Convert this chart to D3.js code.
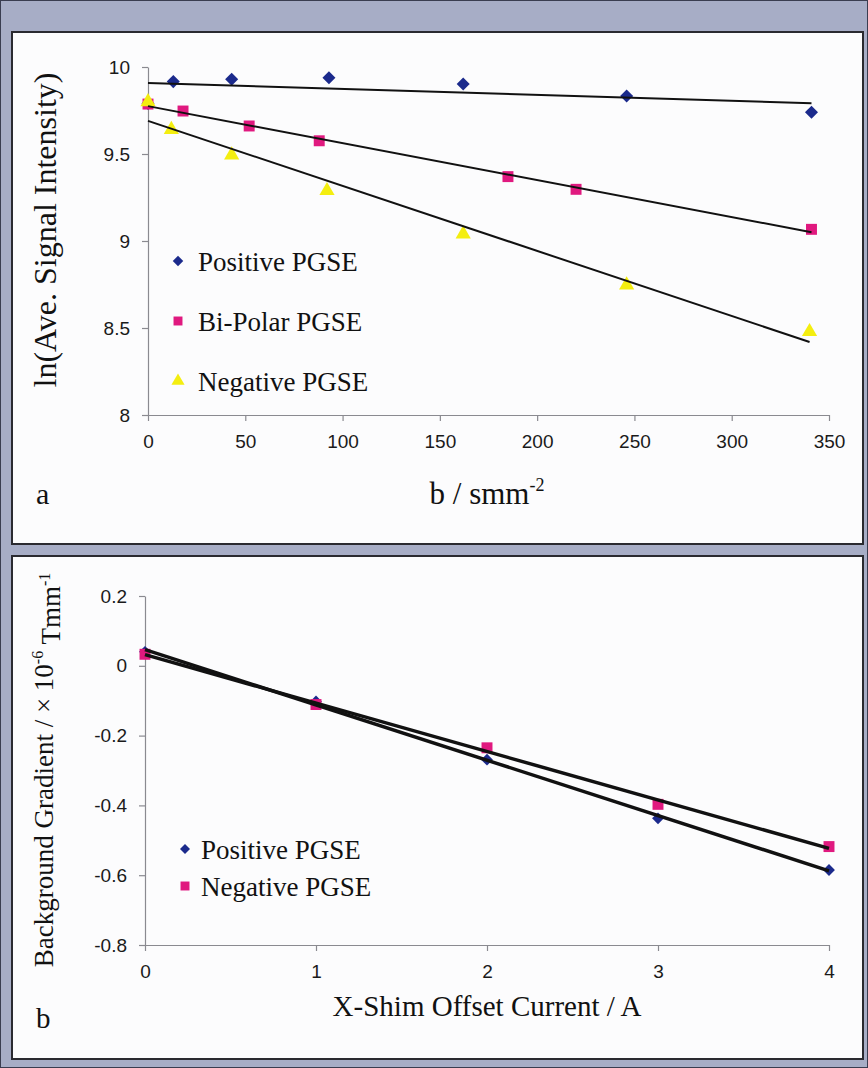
<!DOCTYPE html>
<html>
<head>
<meta charset="utf-8">
<script src="https://cdn.jsdelivr.net/npm/d3@7"></script>
<style>
  html, body { margin: 0; padding: 0; background: #a7adc6; }
  svg { display: block; }
</style>
</head>
<body>
<svg id="fig" width="868" height="1068"></svg>
<script>
// ---- Panel a: ln(average signal intensity) versus b-value ----
const posB   = [0, 13, 43, 93, 162, 246, 341];
const posLn  = [9.79, 9.916, 9.929, 9.938, 9.902, 9.833, 9.74];
const biB    = [0, 18, 52, 88, 185, 220, 341];
const biLn   = [9.787, 9.747, 9.661, 9.576, 9.370, 9.297, 9.067];
const negB   = [0, 12, 43, 92, 162, 246, 340];
const negLn  = [9.80, 9.64, 9.494, 9.289, 9.04, 8.747, 8.479];
const aXTicks = [0, 50, 100, 150, 200, 250, 300, 350];
const aYTicks = [8, 8.5, 9, 9.5, 10];
const aLegend = ["Positive PGSE", "Bi-Polar PGSE", "Negative PGSE"];

// ---- Panel b: background gradient versus X-shim offset current ----
const shimCurrent = [0, 1, 2, 3, 4];
const posGrad     = [0.04, -0.102, -0.269, -0.437, -0.585];
const negGrad     = [0.033, -0.111, -0.235, -0.397, -0.518];
const bXTicks = [0, 1, 2, 3, 4];
const bYTicks = [-0.8, -0.6, -0.4, -0.2, 0, 0.2];
const bLegend = ["Positive PGSE", "Negative PGSE"];

const BLUE = "#1b2a8c", PINK = "#e0197f", YELLOW = "#f4ee10";
const SERIF = "'Liberation Serif', 'Times New Roman', serif";
const SANS = "'Liberation Sans', Arial, sans-serif";

const svg = d3.select("#fig");

// outer frame and the two white panels
svg.append("rect").attr("x", 0.5).attr("y", 0.5).attr("width", 867).attr("height", 1067)
  .attr("fill", "#a7adc6").attr("stroke", "#3a3d50").attr("stroke-width", 1);
[[12, 32, 851, 512], [12, 556, 851, 503]].forEach(([x, y, w, h]) => {
  svg.append("rect").attr("x", x).attr("y", y).attr("width", w).attr("height", h)
    .attr("fill", "#fcfcfd").attr("stroke", "#2a2a30").attr("stroke-width", 2);
});

// least-squares straight line through a series
function fit(xs, ys) {
  const n = xs.length, mx = d3.mean(xs), my = d3.mean(ys);
  let sxy = 0, sxx = 0;
  for (let i = 0; i < n; i++) { sxy += (xs[i] - mx) * (ys[i] - my); sxx += (xs[i] - mx) ** 2; }
  const slope = sxy / sxx;
  return x => my + slope * (x - mx);
}

// marker shapes: a diamond is a square turned by 45 degrees
const MARK = {
  diamond: { sym: d3.symbol().type(d3.symbolSquare), rot: 45 },
  square: { sym: d3.symbol().type(d3.symbolSquare), rot: 0 },
  triangle: { sym: d3.symbol().type(d3.symbolTriangle), rot: 0 }
};

function styleAxis(g, fontSize) {
  g.select(".domain").attr("stroke", "#8a8a90").attr("stroke-width", 1.2);
  g.selectAll(".tick line").attr("stroke", "#8a8a90").attr("stroke-width", 1.2);
  g.selectAll(".tick text").attr("fill", "#1a1a1a")
    .style("font-family", SANS).style("font-size", fontSize + "px");
}

function drawMarkers(g, xs, ys, x, y, kind, size, color) {
  const m = MARK[kind];
  g.selectAll(null).data(xs.map((v, i) => [v, ys[i]])).enter().append("path")
    .attr("d", m.sym.size(size)())
    .attr("transform", d => `translate(${x(d[0])},${y(d[1])}) rotate(${m.rot})`)
    .attr("fill", color);
}

function legendMark(g, cx, cy, kind, size, color) {
  const m = MARK[kind];
  g.append("path").attr("d", m.sym.size(size)())
    .attr("transform", `translate(${cx},${cy}) rotate(${m.rot})`).attr("fill", color);
}

function drawFit(g, xs, ys, x, y, width) {
  const f = fit(xs, ys);
  const x0 = d3.min(xs), x1 = d3.max(xs);
  g.append("line")
    .attr("x1", x(x0)).attr("y1", y(f(x0)))
    .attr("x2", x(x1)).attr("y2", y(f(x1)))
    .attr("stroke", "#111").attr("stroke-width", width);
}

// ================= Panel a =================
{
  const x = d3.scaleLinear().domain([0, 350]).range([148, 829]);
  const y = d3.scaleLinear().domain([8, 10]).range([415, 67]);
  const g = svg.append("g");

  g.append("g").attr("transform", "translate(0,415)")
    .call(d3.axisBottom(x).tickValues(aXTicks).tickSize(6).tickSizeOuter(0).tickPadding(14).tickFormat(d3.format("d")))
    .call(s => styleAxis(s, 19));
  g.append("g").attr("transform", "translate(148,0)")
    .call(d3.axisLeft(y).tickValues(aYTicks).tickSize(6).tickSizeOuter(0).tickPadding(12).tickFormat(d => String(d)))
    .call(s => styleAxis(s, 19));

  drawMarkers(g, posB, posLn, x, y, "diamond", 85, BLUE);
  drawMarkers(g, biB, biLn, x, y, "square", 120, PINK);
  drawMarkers(g, negB, negLn, x, y, "triangle", 100, YELLOW);

  drawFit(g, posB, posLn, x, y, 2);
  drawFit(g, biB, biLn, x, y, 2);
  drawFit(g, negB, negLn, x, y, 2);

  // legend
  const legSyms = [["diamond", 55, BLUE], ["square", 80, PINK], ["triangle", 75, YELLOW]];
  aLegend.forEach((label, i) => {
    const cy = 261 + i * 60;
    legendMark(g, 178, cy, legSyms[i][0], legSyms[i][1], legSyms[i][2]);
    g.append("text").attr("x", 198).attr("y", cy + 10).text(label)
      .style("font-family", SERIF).style("font-size", "27px").attr("fill", "#111");
  });

  // axis titles and panel letter
  const xt = g.append("text").attr("x", 487).attr("y", 504).attr("text-anchor", "middle")
    .style("font-family", SERIF).style("font-size", "31px").attr("fill", "#111");
  xt.append("tspan").text("b / smm");
  xt.append("tspan").attr("dy", "-0.7em").style("font-size", "18px").text("-2");

  g.append("text").attr("transform", "translate(56,230) rotate(-90)").attr("text-anchor", "middle")
    .style("font-family", SERIF).style("font-size", "32px").attr("fill", "#111")
    .text("ln(Ave. Signal Intensity)");

  g.append("text").attr("x", 36).attr("y", 504)
    .style("font-family", SERIF).style("font-size", "30px").attr("fill", "#111").text("a");
}

// ================= Panel b =================
{
  const x = d3.scaleLinear().domain([0, 4]).range([145, 829]);
  const y = d3.scaleLinear().domain([-0.8, 0.2]).range([945, 596]);
  const g = svg.append("g");

  g.append("g").attr("transform", "translate(0,945)")
    .call(d3.axisBottom(x).tickValues(bXTicks).tickSize(6).tickSizeOuter(0).tickPadding(14).tickFormat(d3.format("d")))
    .call(s => styleAxis(s, 19));
  g.append("g").attr("transform", "translate(145,0)")
    .call(d3.axisLeft(y).tickValues(bYTicks).tickSize(6).tickSizeOuter(0).tickPadding(12)
      .tickFormat(d => d === 0 ? "0" : String(d)))
    .call(s => styleAxis(s, 19));

  drawMarkers(g, shimCurrent, posGrad, x, y, "diamond", 70, BLUE);
  drawMarkers(g, shimCurrent, negGrad, x, y, "square", 120, PINK);

  drawFit(g, shimCurrent, posGrad, x, y, 3.5);
  drawFit(g, shimCurrent, negGrad, x, y, 3.5);

  const legSyms = [["diamond", 50, BLUE], ["square", 80, PINK]];
  bLegend.forEach((label, i) => {
    const cy = 849 + i * 37;
    legendMark(g, 185, cy, legSyms[i][0], legSyms[i][1], legSyms[i][2]);
    g.append("text").attr("x", 201).attr("y", cy + 10).text(label)
      .style("font-family", SERIF).style("font-size", "27px").attr("fill", "#111");
  });

  g.append("text").attr("x", 487).attr("y", 1016).attr("text-anchor", "middle")
    .style("font-family", SERIF).style("font-size", "29px").attr("fill", "#111")
    .text("X-Shim Offset Current / A");

  const yt = g.append("text").attr("transform", "translate(53,770) rotate(-90)").attr("text-anchor", "middle")
    .style("font-family", SERIF).style("font-size", "27px").attr("fill", "#111");
  yt.append("tspan").text("Background Gradient / × 10");
  yt.append("tspan").attr("dy", "-0.6em").style("font-size", "16px").text("-6");
  yt.append("tspan").attr("dy", "0.6em").text(" Tmm");
  yt.append("tspan").attr("dy", "-0.6em").style("font-size", "16px").text("-1");

  g.append("text").attr("x", 36).attr("y", 1028)
    .style("font-family", SERIF).style("font-size", "29px").attr("fill", "#111").text("b");
}
</script>
</body>
</html>
